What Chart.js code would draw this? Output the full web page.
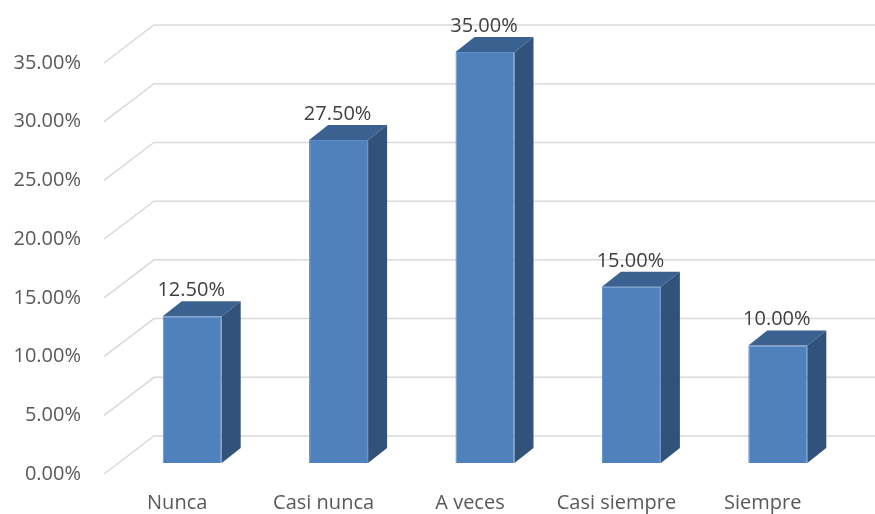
<!DOCTYPE html>
<html>
<head>
<meta charset="utf-8">
<script src="https://cdn.jsdelivr.net/npm/chart.js@4.4.1/dist/chart.umd.min.js"></script>
<style>
  html, body { margin: 0; padding: 0; background: #fff; }
  #wrap { width: 875px; height: 514px; }
</style>
</head>
<body>
<div id="wrap"><canvas id="grafico"></canvas></div>
<script>
const categorias = ["Nunca", "Casi nunca", "A veces", "Casi siempre", "Siempre"];
const porcentajes = [12.5, 27.5, 35, 15, 10];
const ejeMax = 35;
const ejePaso = 5;

// desplazamientos de la perspectiva 3D (plano de las barras como referencia)
const frente = { dx: -15, dy: 11 };
const fondo = { dx: 35, dy: -27 };
const prof = { dx: 19, dy: -15 };

const fuente = "'Open Sans', 'Liberation Sans', sans-serif";

const efecto3d = {
  id: "efecto3d",
  beforeDatasetsDraw(chart) {
    const { ctx, chartArea, scales } = chart;
    const y = scales.y;
    ctx.save();
    ctx.strokeStyle = "#d9d9d9";
    ctx.lineWidth = 1.5;
    for (let v = 0; v <= ejeMax; v += ejePaso) {
      const py = y.getPixelForValue(v);
      ctx.beginPath();
      ctx.moveTo(chartArea.left + frente.dx, py + frente.dy);
      ctx.lineTo(chartArea.left + fondo.dx, py + fondo.dy);
      ctx.lineTo(chart.width, py + fondo.dy);
      ctx.stroke();
    }
    ctx.restore();
  },
  afterDatasetsDraw(chart) {
    const { ctx } = chart;
    const meta = chart.getDatasetMeta(0);
    ctx.save();
    meta.data.forEach((bar, i) => {
      const w = bar.width;
      const l = bar.x - w / 2, r = bar.x + w / 2;
      const t = bar.y, b = bar.base;
      // cara superior
      ctx.fillStyle = "#3b6191";
      ctx.beginPath();
      ctx.moveTo(l, t);
      ctx.lineTo(r, t);
      ctx.lineTo(r + prof.dx, t + prof.dy);
      ctx.lineTo(l + prof.dx, t + prof.dy);
      ctx.closePath();
      ctx.fill();
      // cara lateral
      ctx.fillStyle = "#31527b";
      ctx.beginPath();
      ctx.moveTo(r, t);
      ctx.lineTo(r + prof.dx, t + prof.dy);
      ctx.lineTo(r + prof.dx, b + prof.dy);
      ctx.lineTo(r, b);
      ctx.closePath();
      ctx.fill();
      // etiqueta
      ctx.fillStyle = "#404040";
      ctx.font = "20px " + fuente;
      ctx.textAlign = "center";
      ctx.textBaseline = "middle";
      ctx.fillText(porcentajes[i].toFixed(2) + "%", bar.x - 1, t - 26);
    });
    ctx.restore();
  }
};

new Chart(document.getElementById("grafico"), {
  type: "bar",
  data: {
    labels: categorias,
    datasets: [{
      data: porcentajes,
      backgroundColor: "#4f81bd",
      borderColor: "#5b8dc9",
      borderWidth: 1,
      barPercentage: 0.403,
      categoryPercentage: 1
    }]
  },
  options: {
    responsive: true,
    maintainAspectRatio: false,
    animation: false,
    layout: { padding: { top: 52, right: 24, left: 0, bottom: 0 } },
    plugins: {
      legend: { display: false },
      tooltip: { enabled: false }
    },
    scales: {
      x: {
        grid: { display: false, drawTicks: false },
        border: { display: false },
        ticks: {
          color: "#595959",
          font: { family: fuente, size: 20 },
          padding: 28,
          labelOffset: -15,
          maxRotation: 0
        },
        afterFit(s) { s.height = 51; }
      },
      y: {
        min: 0,
        max: ejeMax,
        grid: { display: false, drawTicks: false },
        border: { display: false },
        ticks: {
          stepSize: ejePaso,
          color: "#595959",
          font: { family: fuente, size: 20 },
          padding: 38,
          labelOffset: 11,
          callback: v => v.toFixed(2) + "%"
        },
        afterFit(s) { s.width = 119; }
      }
    }
  },
  plugins: [efecto3d]
});
</script>
</body>
</html>
